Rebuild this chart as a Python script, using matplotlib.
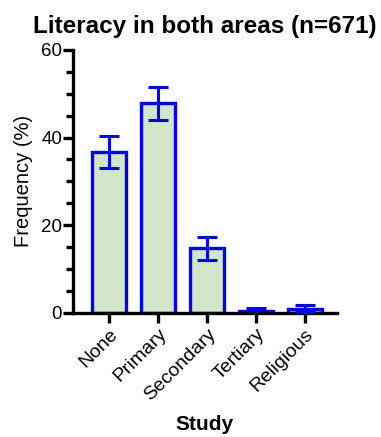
import matplotlib
matplotlib.use("Agg")
from matplotlib import pyplot as plt
from matplotlib.ticker import MultipleLocator

# data
categories = ["None", "Primary", "Secondary", "Tertiary", "Religious"]
frequency = [36.7, 47.8, 14.7, 0.4, 1.0]
errors = [3.6, 3.8, 2.7, 0.8, 0.9]

plt.rcParams['font.family'] = ['Liberation Sans', 'DejaVu Sans']

fig = plt.figure(figsize=(3.81, 4.37), dpi=100)
ax = fig.add_axes([0.192, 0.284, 0.692, 0.602])

x = list(range(len(categories)))
ax.bar(x, frequency, width=0.7, color='#d1e5c9', edgecolor='#0000ff',
       linewidth=2.4, zorder=2)
ax.errorbar(x, frequency, yerr=errors, fmt='none', ecolor='#0000ff',
            elinewidth=2.2, capsize=7, capthick=2.2, zorder=3)

ax.set_xlim(-0.73, 4.65)
ax.set_ylim(0, 60)
ax.yaxis.set_major_locator(MultipleLocator(20))
ax.yaxis.set_minor_locator(MultipleLocator(5))

for s in ['top', 'right']:
    ax.spines[s].set_visible(False)
for s in ['left', 'bottom']:
    ax.spines[s].set_linewidth(2.4)
    ax.spines[s].set_color('black')

ax.tick_params(axis='y', which='major', length=7, width=2.4, labelsize=13.5, pad=1)
ax.tick_params(axis='y', which='minor', length=5, width=2.4)
ax.tick_params(axis='x', length=7, width=2.4, labelsize=14, pad=2)

ax.set_xticks(x)
ax.set_xticklabels(categories, rotation=45, ha='right', rotation_mode='anchor')

ax.set_ylabel("Frequency (%)", fontsize=14.5, labelpad=6)
ax.set_xlabel("Study", fontsize=15, fontweight='bold', labelpad=8)
ax.set_title("Literacy in both areas (n=671)", fontsize=17.5, fontweight='bold', pad=12)

fig.savefig("out.png", dpi=100)
